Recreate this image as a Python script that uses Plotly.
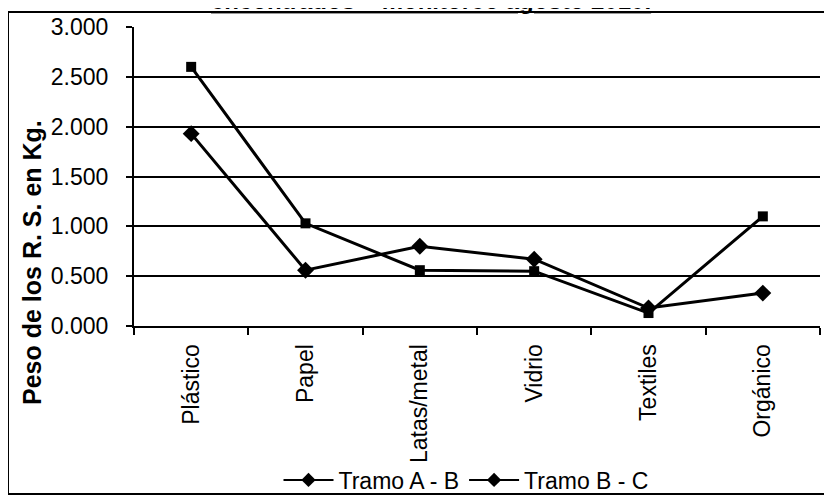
import plotly.graph_objects as go

categories = ["Plástico", "Papel", "Latas/metal", "Vidrio", "Textiles", "Orgánico"]
tramo_ab = [1.93, 0.56, 0.80, 0.67, 0.18, 0.33]
tramo_bc = [2.60, 1.03, 0.56, 0.55, 0.13, 1.10]
series_names = ["Tramo A - B", "Tramo B - C"]
y_ticks = [0, 0.5, 1.0, 1.5, 2.0, 2.5, 3.0]
title_text = "encontrados – monitoreo agosto 2010."
y_title = "Peso de los R. S. en Kg."

FONT = "Arial, Liberation Sans, sans-serif"

# page body has an 8px margin; plot area in page pixels: x 134..820, y 27..326
PL, PR, PT, PB = 134, 820, 27, 326
def px_x(p):
    return (p - PL) / (PR - PL)
def px_y(p):
    return (PB - p) / (PB - PT)

fig = go.Figure()
fig.add_trace(go.Scatter(x=categories, y=tramo_ab, mode="lines+markers", name=series_names[0],
                         line=dict(color="black", width=3),
                         marker=dict(symbol="diamond", size=13, color="black"), showlegend=False))
fig.add_trace(go.Scatter(x=categories, y=tramo_bc, mode="lines+markers", name=series_names[1],
                         line=dict(color="black", width=3),
                         marker=dict(symbol="square", size=10, color="black"), showlegend=False))
for nm in series_names:
    fig.add_trace(go.Scatter(x=[None], y=[None], mode="lines+markers", name=nm,
                             line=dict(color="black", width=2),
                             marker=dict(symbol="diamond", size=11, color="black")))

fig.update_layout(
    width=824, height=488,
    margin=dict(l=PL - 8, r=824 - (PR - 8), t=PT - 8, b=488 - (PB - 8), autoexpand=False),
    paper_bgcolor="white", plot_bgcolor="white",
    font=dict(family=FONT, color="black"),
    showlegend=True,
    legend=dict(orientation="h", x=px_x(466), xanchor="center", y=px_y(480), yanchor="middle",
                font=dict(size=23, family=FONT), bgcolor="rgba(0,0,0,0)", itemwidth=50),
    xaxis=dict(type="category", categoryorder="array", categoryarray=categories,
               range=[-0.5, 5.5], showline=True, linecolor="black", linewidth=2,
               ticks="outside", ticklen=7, tickwidth=2, tickcolor="black",
               tickson="boundaries", tickangle=-90, showgrid=False, automargin=False,
               tickfont=dict(size=23, family=FONT), ticklabelstandoff=7),
    yaxis=dict(range=[0, 3.0], tickvals=y_ticks, tickformat=".3f",
               showline=True, linecolor="black", linewidth=2,
               ticks="outside", ticklen=6, tickwidth=2, tickcolor="black",
               showgrid=True, gridcolor="black", gridwidth=2, zeroline=False, automargin=False,
               tickfont=dict(size=23, family=FONT), ticklabelstandoff=13),
)

# outer chart frame
fig.add_shape(type="rect", xref="paper", yref="paper",
              x0=px_x(8), x1=px_x(845), y0=px_y(494), y1=px_y(12),
              line=dict(color="black", width=2), fillcolor="rgba(0,0,0,0)", layer="below")

# y axis title
fig.add_annotation(text="<b>" + y_title + "</b>", xref="paper", yref="paper",
                   x=px_x(32), y=px_y(263), textangle=-90, showarrow=False,
                   font=dict(size=25, family=FONT), xanchor="center", yanchor="middle")

# cut-off title at top (the original scan shows only its lower part)
fig.add_annotation(text="<b><u>" + title_text + "</u></b>", xref="paper", yref="paper",
                   x=px_x(431), y=px_y(0), showarrow=False,
                   font=dict(size=24, family=FONT), xanchor="center", yanchor="middle")

fig.write_html("out.html")
